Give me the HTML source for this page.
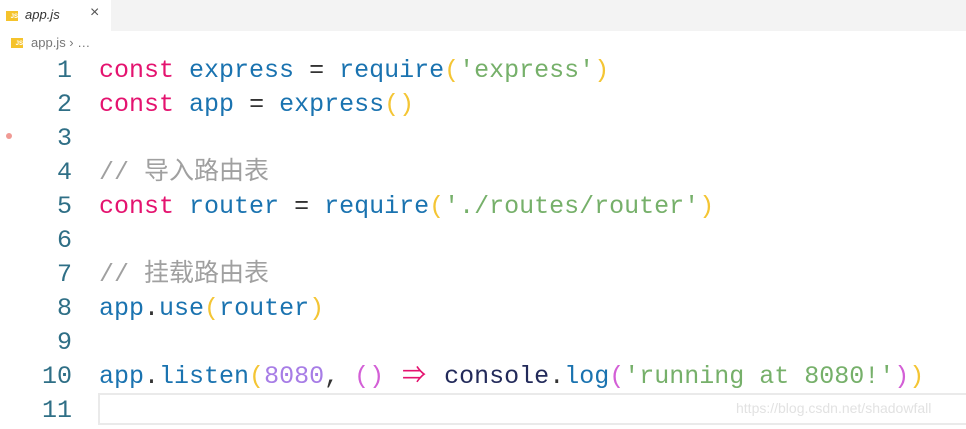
<!DOCTYPE html>
<html><head><meta charset="utf-8"><style>
body{margin:0;width:966px;height:429px;background:#fff;overflow:hidden;position:relative;font-family:"Liberation Sans",sans-serif}
.tabbar{position:absolute;left:0;top:0;width:966px;height:31px;background:#f3f3f3}
.tab{position:absolute;left:0;top:0;width:111px;height:31px;background:#fff}
.js{position:absolute;width:12px;height:10px;background:#f5c32c;color:#fff;font-size:6px;line-height:12px;text-align:right;font-weight:bold}
.code{position:absolute;left:0;top:54px;font-family:"Liberation Mono","Noto Sans CJK SC",monospace;font-size:25px}
.l{height:34px;line-height:34px;white-space:pre;position:relative}
.n{display:inline-block;width:72px;text-align:right;color:#2f6f86;margin-right:27px}
.k{color:#e4136f}.v{color:#1a73b0}.s{color:#76b06a}.p{color:#f4c534}.c{color:#a0a0a0}.m{color:#a77de6}.q{color:#d35fd6}.d{color:#222a5a}.o{color:#333}
.ar{display:inline-block;width:30px;font-size:24px;text-align:center}
</style></head><body>
<div class="tabbar"><div class="tab">
<div class="js" style="left:6px;top:11px">JS</div>
<span style="position:absolute;left:25px;top:7px;font-size:13px;font-style:italic;color:#333">app.js</span>
<span style="position:absolute;left:90px;top:4px;font-size:16px;color:#555">×</span>
</div></div>
<div class="js" style="left:11px;top:38px">JS</div>
<span style="position:absolute;left:31px;top:35px;font-size:13px;color:#777">app.js › …</span>
<div style="position:absolute;left:6px;top:133px;width:6px;height:6px;border-radius:50%;background:#f09a94"></div>
<div style="position:absolute;left:98px;top:393px;width:868px;height:32px;border:2px solid #eaeaea;border-right:none;box-sizing:border-box"></div>
<div class="code">
<div class="l"><span class="n">1</span><span class="k">const</span> <span class="v">express</span> <span class="o">=</span> <span class="v">require</span><span class="p">(</span><span class="s">'express'</span><span class="p">)</span></div>
<div class="l"><span class="n">2</span><span class="k">const</span> <span class="v">app</span> <span class="o">=</span> <span class="v">express</span><span class="p">()</span></div>
<div class="l"><span class="n">3</span></div>
<div class="l"><span class="n">4</span><span class="c">// 导入路由表</span></div>
<div class="l"><span class="n">5</span><span class="k">const</span> <span class="v">router</span> <span class="o">=</span> <span class="v">require</span><span class="p">(</span><span class="s">'./routes/router'</span><span class="p">)</span></div>
<div class="l"><span class="n">6</span></div>
<div class="l"><span class="n">7</span><span class="c">// 挂载路由表</span></div>
<div class="l"><span class="n">8</span><span class="v">app</span><span class="o">.</span><span class="v">use</span><span class="p">(</span><span class="v">router</span><span class="p">)</span></div>
<div class="l"><span class="n">9</span></div>
<div class="l"><span class="n">10</span><span class="v">app</span><span class="o">.</span><span class="v">listen</span><span class="p">(</span><span class="m">8080</span><span class="o">,</span> <span class="q">()</span> <span class="k ar">⇒</span> <span class="d">console</span><span class="o">.</span><span class="v">log</span><span class="q">(</span><span class="s">'running at 8080!'</span><span class="q">)</span><span class="p">)</span></div>
<div class="l"><span class="n">11</span></div>
</div>
<span style="position:absolute;left:736px;top:400px;font-size:14px;color:#e2e2e2">https://blog.csdn.net/shadowfall</span>
</body></html>
